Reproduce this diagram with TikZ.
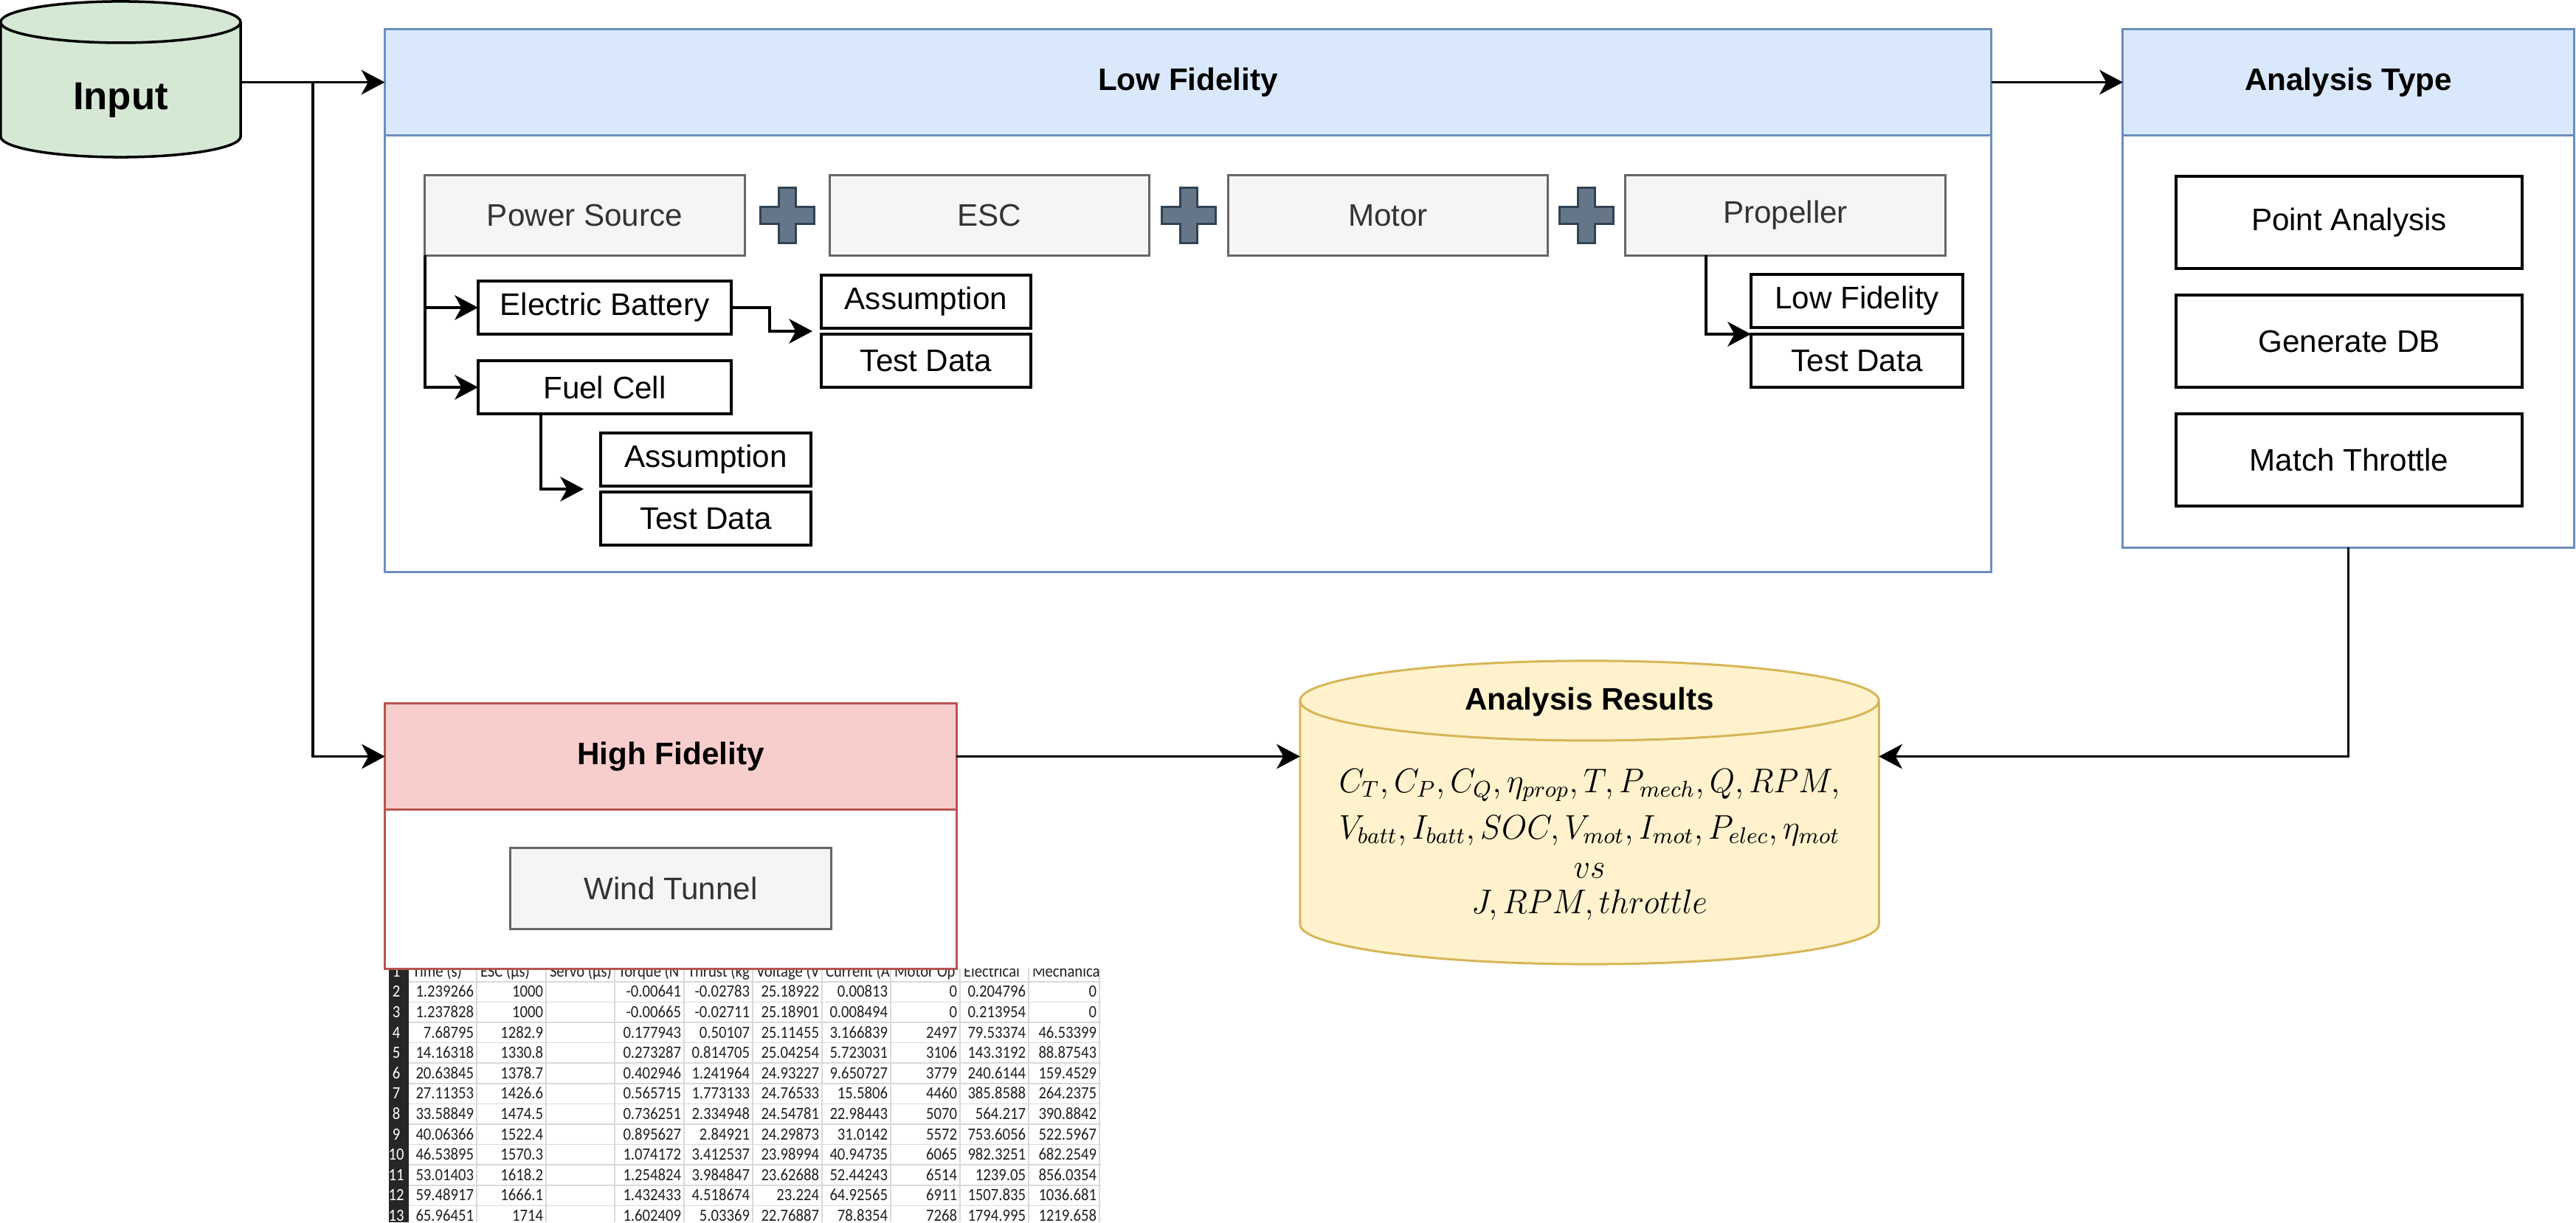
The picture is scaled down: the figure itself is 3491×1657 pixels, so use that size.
\documentclass[tikz,border=0pt]{standalone}
\usepackage{graphicx}
\usepackage{fontspec}
\setmainfont{Liberation Sans}
\newfontfamily\tabfont[FakeStretch=0.89]{Carlito}
\usetikzlibrary{arrows.meta,calc}
\pgfdeclarelayer{background}
\pgfsetlayers{background,main}
\definecolor{bluefill}{HTML}{DAE8FC}
\definecolor{bluedraw}{HTML}{6C8EBF}
\definecolor{redfill}{HTML}{F8CECC}
\definecolor{reddraw}{HTML}{B85450}
\definecolor{greenfill}{HTML}{D5E8D4}
\definecolor{yelfill}{HTML}{FFF2CC}
\definecolor{yeldraw}{HTML}{D6B656}
\definecolor{grayfill}{HTML}{F5F5F5}
\definecolor{graydraw}{HTML}{666666}
\definecolor{graytext}{HTML}{333333}
\definecolor{plusfill}{HTML}{647687}
\definecolor{plusdraw}{HTML}{314354}
\definecolor{gridc}{HTML}{D9D9D9}
\definecolor{hdrc}{HTML}{262626}
\definecolor{tabtext}{HTML}{1F1F1F}
\newcommand\fs{\fontsize{12}{14}\selectfont}
\newcommand\armth[1]{\scalebox{1.045}[1.1]{$#1$}}
\newcommand\trow[2]{%
  \node[rowno, name=n#1] at (537,{-1316.8-27.6*(#1-1)-7.5}) {#1};
  \foreach \v [count=\c] in {#2} {%
    \pgfmathsetmacro\xr{{646,740,833,927,1020,1114,1207,1301,1394,1490}[\c-1]-4}
    \node[tabtxt, anchor=base east, name=t#1-\c] at (\xr,{-1316.8-27.6*(#1-1)-7.5}) {\v};
  }%
}
\begin{document}
\begin{tikzpicture}[x=0.01cm,y=0.01cm,
  every node/.style={inner sep=0pt,outer sep=0pt},
  arr/.style={line width=1pt,-{Stealth[length=9pt,width=9.5pt,inset=2.6pt]}},
  ln/.style={line width=1pt},
  conthead/.style={line width=0.85pt,font=\fs\bfseries},
  contbody/.style={draw, fill=white, line width=0.85pt},
  graybox/.style={draw=graydraw, fill=grayfill, line width=0.85pt, text=graytext, font=\fs, minimum width=4.33cm, minimum height=1.08cm},
  blkbox/.style={draw=black, fill=white, line width=1pt, font=\fs, minimum height=0.72cm},
  atbox/.style={draw=black, fill=white, line width=1pt, font=\fs, minimum width=4.69cm, minimum height=1.25cm},
  tabtxt/.style={font=\tabfont\fontsize{6.6}{7}\selectfont, text=tabtext},
  rowno/.style={font=\tabfont\fontsize{6.6}{7}\selectfont, text=white, anchor=base},
  armath/.style={font=\fontsize{12}{14}\selectfont, anchor=base},
  plusicon/.pic={\draw[fill=plusfill,draw=plusdraw,line width=0.8pt]
    (-11.5,37.5) -- (11.5,37.5) -- (11.5,11.5) -- (36.5,11.5) -- (36.5,-11.5) -- (11.5,-11.5)
    -- (11.5,-37.5) -- (-11.5,-37.5) -- (-11.5,-11.5) -- (-36.5,-11.5) -- (-36.5,11.5) -- (-11.5,11.5) -- cycle;}
]
\useasboundingbox (0,0) rectangle (3491,-1657);

% ---------- spreadsheet (under High Fidelity box) ----------
\begin{scope}
  \clip (527,-1313) rectangle (1492,-1657);
  \fill[hdrc] (527,-1303) rectangle (554,-1657);
  \foreach \k in {0,...,12} \draw[gridc,line width=0.45pt] (554,{-1330.7-27.6*\k}) -- (1492,{-1330.7-27.6*\k});
  \foreach \xb in {646,740,833,927,1020,1114,1207,1301,1394,1490} \draw[gridc,line width=0.45pt] (\xb,-1303) -- (\xb,-1657);
  \node[rowno, name=n1] at (537,-1324.3) {1};
  \foreach \h [count=\c] in {Time (s),ESC (µs),Servo (µs),Torque (N,Thrust (kg,Voltage (V,Current (A,Motor Op,Electrical,Mechanica} {%
    \pgfmathsetmacro\xl{{554,646,740,833,927,1020,1114,1207,1301,1394}[\c-1]+5}
    \node[tabtxt, anchor=base west, name=h\c] at (\xl,-1324.3) {\h};
  }
  \trow{2}{1.239266,1000,{},-0.00641,-0.02783,25.18922,0.00813,0,0.204796,0}
  \trow{3}{1.237828,1000,{},-0.00665,-0.02711,25.18901,0.008494,0,0.213954,0}
  \trow{4}{7.68795,1282.9,{},0.177943,0.50107,25.11455,3.166839,2497,79.53374,46.53399}
  \trow{5}{14.16318,1330.8,{},0.273287,0.814705,25.04254,5.723031,3106,143.3192,88.87543}
  \trow{6}{20.63845,1378.7,{},0.402946,1.241964,24.93227,9.650727,3779,240.6144,159.4529}
  \trow{7}{27.11353,1426.6,{},0.565715,1.773133,24.76533,15.5806,4460,385.8588,264.2375}
  \trow{8}{33.58849,1474.5,{},0.736251,2.334948,24.54781,22.98443,5070,564.217,390.8842}
  \trow{9}{40.06366,1522.4,{},0.895627,2.84921,24.29873,31.0142,5572,753.6056,522.5967}
  \trow{10}{46.53895,1570.3,{},1.074172,3.412537,23.98994,40.94735,6065,982.3251,682.2549}
  \trow{11}{53.01403,1618.2,{},1.254824,3.984847,23.62688,52.44243,6514,1239.05,856.0354}
  \trow{12}{59.48917,1666.1,{},1.432433,4.518674,23.224,64.92565,6911,1507.835,1036.681}
  \trow{13}{65.96451,1714,{},1.602409,5.03369,22.76887,78.8354,7268,1794.995,1219.658}
\end{scope}

% ---------- Input cylinder ----------
\node[minimum width=3.25cm, minimum height=1.55cm, font=\fontsize{15}{17}\selectfont\bfseries] (inp) at (163.5,-135.5) {\raisebox{-1.5pt}{Input}};
\begin{pgfonlayer}{background}
\draw[line width=1pt, fill=greenfill] ([yshift=0.28cm]inp.north west) -- ([yshift=0.28cm]inp.south west)
  arc[start angle=180,end angle=360,x radius=1.625cm,y radius=0.28cm]
  -- ([yshift=0.28cm]inp.north east)
  arc[start angle=0,end angle=180,x radius=1.625cm,y radius=0.28cm] -- cycle;
\draw[line width=1pt] ([yshift=0.28cm]inp.north west) arc[start angle=180,end angle=360,x radius=1.625cm,y radius=0.28cm];
\end{pgfonlayer}

% ---------- Low Fidelity container ----------
\node[contbody, draw=bluedraw, minimum width=21.76cm, minimum height=7.35cm] (lfbody) at (1610,-407.5) {};
\node[conthead, draw=bluedraw, fill=bluefill, minimum width=21.76cm, minimum height=1.43cm] (lfh) at (1610,-111.5) {Low Fidelity};

\node[graybox] (ps) at (792.5,-292) {Power Source};
\node[graybox] (esc) at (1341,-292) {ESC};
\node[graybox] (mot) at (1881,-292) {Motor};
\node[graybox] (pr) at (2419.5,-292) {Propeller};
\pic at (1067,-292) {plusicon};
\pic at (1611,-292) {plusicon};
\pic at (2150,-292) {plusicon};

\node[blkbox, minimum width=3.43cm] (eb) at (819.5,-417) {Electric Battery};
\node[blkbox, minimum width=3.43cm] (fc) at (819.5,-525) {Fuel Cell};
\node[blkbox, minimum width=2.84cm] (as1) at (1255,-409) {Assumption};
\node[blkbox, minimum width=2.84cm] (td1) at (1255,-489) {Test Data};
\node[blkbox, minimum width=2.85cm] (as2) at (956.5,-623) {Assumption};
\node[blkbox, minimum width=2.85cm] (td2) at (956.5,-703) {Test Data};
\node[blkbox, minimum width=2.87cm] (lf2) at (2516.5,-408) {Low Fidelity};
\node[blkbox, minimum width=2.87cm] (td3) at (2516.5,-489) {Test Data};

\coordinate (ebend) at (1101,-449);
\coordinate (fcend) at (791,-663);
\draw[arr] (ps.south west) |- (eb.west);
\draw[arr] (ps.south west) |- (fc.west);
\draw[arr] (eb.east) -- ++(52,0) |- (ebend);
\draw[arr] ([xshift=-0.865cm]fc.south) |- (fcend);
\draw[arr] ([xshift=1.09cm]pr.south west) |- (td3.north west);

% ---------- Analysis Type container ----------
\node[contbody, draw=bluedraw, minimum width=6.11cm, minimum height=7.02cm] (atbody) at (3182.5,-391) {};
\node[conthead, draw=bluedraw, fill=bluefill, minimum width=6.11cm, minimum height=1.43cm] (ath) at (3182.5,-111.5) {Analysis Type};
\node[atbox] (pa) at (3183.5,-301.5) {Point Analysis};
\node[atbox] (gdb) at (3183.5,-462.5) {Generate DB};
\node[atbox] (mt) at (3183.5,-623.5) {Match Throttle};

% ---------- High Fidelity container ----------
\node[contbody, draw=reddraw, minimum width=7.74cm, minimum height=3.59cm] (hfbody) at (909,-1133.5) {};
\node[conthead, draw=reddraw, fill=redfill, minimum width=7.74cm, minimum height=1.43cm] (hfh) at (909,-1025.5) {High Fidelity};
\node[graybox, minimum width=4.34cm, minimum height=1.09cm] (wt) at (909,-1204.5) {Wind Tunnel};

% ---------- Analysis Results cylinder ----------
\node[minimum width=7.84cm, minimum height=3.03cm] (ar) at (2154,-1155.5) {};
\begin{pgfonlayer}{background}
\draw[line width=0.85pt, draw=yeldraw, fill=yelfill] ([yshift=0.54cm]ar.north west) -- ([yshift=0.54cm]ar.south west)
  arc[start angle=180,end angle=360,x radius=3.92cm,y radius=0.54cm]
  -- ([yshift=0.54cm]ar.north east)
  arc[start angle=0,end angle=180,x radius=3.92cm,y radius=0.54cm] -- cycle;
\draw[line width=0.85pt, draw=yeldraw] ([yshift=0.54cm]ar.north west) arc[start angle=180,end angle=360,x radius=3.92cm,y radius=0.54cm];
\end{pgfonlayer}
\node[font=\fs\bfseries] (artitle) at (2154,-952) {Analysis Results};
\node[armath] (arl1) at (2154,-1074) {\armth{C_T, C_P, C_Q, \eta_{prop}, T, P_{mech}, Q, RPM,}};
\node[armath] (arl2) at (2154,-1137) {\armth{V_{batt}, I_{batt}, SOC, V_{mot}, I_{mot}, P_{elec}, \eta_{mot}}};
\node[armath] (arl3) at (2154,-1190) {\armth{vs}};
\node[armath] (arl4) at (2154,-1238) {\armth{J, RPM, throttle}};

% ---------- main connectors ----------
\coordinate (br) at (424,-111.5);
\draw[arr] (inp.east |- lfh.west) -- (lfh.west);
\draw[arr] (br) |- (hfh.west);
\draw[arr] (lfh.east) -- (ath.west);
\draw[arr] (hfh.east) -- (hfh.east -| ar.west);
\draw[arr] (atbody.south) |- (ar.east |- hfh.east);
\end{tikzpicture}
\end{document}
